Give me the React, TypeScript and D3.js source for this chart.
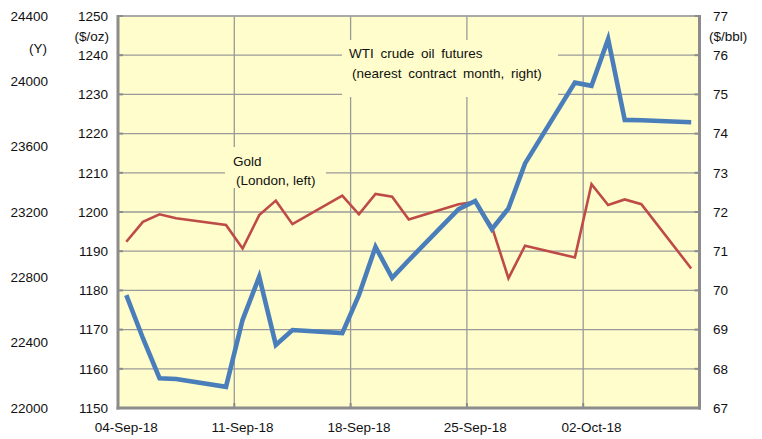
import React, { useEffect, useRef } from 'react';
import * as d3 from 'd3';

// trading days shown on the chart
const dates = [
  '2018-09-04', '2018-09-05', '2018-09-06', '2018-09-07',
  '2018-09-10', '2018-09-11', '2018-09-12', '2018-09-13', '2018-09-14',
  '2018-09-17', '2018-09-18', '2018-09-19', '2018-09-20', '2018-09-21',
  '2018-09-24', '2018-09-25', '2018-09-26', '2018-09-27', '2018-09-28',
  '2018-10-01', '2018-10-02', '2018-10-03', '2018-10-04', '2018-10-05',
  '2018-10-08',
];

// Gold, London ($/oz, left axis)
const gold = [
  1192.4, 1197.5, 1199.4, 1198.4,
  1196.7, 1190.7, 1199.2, 1202.9, 1196.9,
  1204.2, 1199.4, 1204.6, 1203.9, 1198.1,
  1202.0, 1202.6, 1196.3, 1183.1, 1191.4,
  1188.4, 1207.1, 1201.8, 1203.2, 1202.0,
  1185.6,
];

// WTI crude oil futures ($/bbl, right axis)
const wti = [
  69.88, 68.78, 67.76, 67.74,
  67.54, 69.25, 70.35, 68.61, 68.99,
  68.91, 69.88, 71.11, 70.32, 70.77,
  72.07, 72.28, 71.56, 72.09, 73.24,
  75.30, 75.22, 76.41, 74.35, 74.34,
  74.29,
];

const yenTicks = [22000, 22400, 22800, 23200, 23600, 24000, 24400];
const goldTicks = [1150, 1160, 1170, 1180, 1190, 1200, 1210, 1220, 1230, 1240, 1250];
const wtiTicks = [67, 68, 69, 70, 71, 72, 73, 74, 75, 76, 77];
const dateTicks = ['2018-09-04', '2018-09-11', '2018-09-18', '2018-09-25', '2018-10-02'];

const W = 762;
const H = 439;
const FONT = '"Liberation Sans", Arial, sans-serif';

export default function App() {
  const ref = useRef(null);

  useEffect(() => {
    if (!ref.current) return;
    const svg = d3.select(ref.current);
    svg.selectAll('*').remove();

    const left = 118;
    const right = 699.5;
    const top = 16;
    const bottom = 408;

    const parse = d3.utcParse('%Y-%m-%d');
    const x = d3.scaleUtc()
      .domain([parse('2018-09-04')!, parse('2018-10-09')!])
      .range([left, right]);
    const half = (x(parse('2018-09-05')!) - x(parse('2018-09-04')!)) / 2;

    const yGold = d3.scaleLinear().domain([1150, 1250]).range([bottom, top]);
    const yYen = d3.scaleLinear().domain([22000, 24400]).range([bottom, top]);
    const yWti = d3.scaleLinear().domain([67, 77]).range([bottom, top]);

    // plot background
    svg.append('rect')
      .attr('x', left).attr('y', top)
      .attr('width', right - left).attr('height', bottom - top)
      .attr('fill', '#fefdcb');

    // horizontal gridlines
    svg.append('g')
      .selectAll('line')
      .data(goldTicks.filter(d => d > 1150))
      .join('line')
      .attr('x1', left).attr('x2', right)
      .attr('y1', d => yGold(d)).attr('y2', d => yGold(d))
      .attr('stroke', '#9a9a9a').attr('stroke-width', 1.3);

    // vertical gridlines
    svg.append('g')
      .selectAll('line')
      .data(dateTicks.slice(1))
      .join('line')
      .attr('x1', d => x(parse(d)!)).attr('x2', d => x(parse(d)!))
      .attr('y1', top).attr('y2', bottom)
      .attr('stroke', '#9a9a9a').attr('stroke-width', 1.3);

    // label boxes hiding the grid
    svg.append('rect').attr('x', 225).attr('y', 147).attr('width', 101).attr('height', 41).attr('fill', '#fefdcb');
    svg.append('rect').attr('x', 342).attr('y', 40).attr('width', 216).attr('height', 57).attr('fill', '#fefdcb');

    const pts = dates.map(d => x(parse(d)!) + half);

    const goldLine = d3.line<number>()
      .x((d, i) => pts[i])
      .y(d => yGold(d));
    const wtiLine = d3.line<number>()
      .x((d, i) => pts[i])
      .y(d => yWti(d));

    svg.append('path')
      .attr('d', goldLine(gold))
      .attr('fill', 'none')
      .attr('stroke', '#be4b48')
      .attr('stroke-width', 2.6)
      .attr('stroke-linejoin', 'miter');

    svg.append('path')
      .attr('d', wtiLine(wti))
      .attr('fill', 'none')
      .attr('stroke', '#4a7ebb')
      .attr('stroke-width', 4.6)
      .attr('stroke-linejoin', 'miter');

    // frame and axes
    svg.append('line').attr('x1', left).attr('x2', right).attr('y1', top).attr('y2', top)
      .attr('stroke', '#a6a6a6').attr('stroke-width', 1.6);
    const axisColor = '#8c8c8c';
    svg.append('line').attr('x1', left).attr('x2', left).attr('y1', top - 1).attr('y2', bottom + 1.5)
      .attr('stroke', axisColor).attr('stroke-width', 3);
    svg.append('line').attr('x1', right).attr('x2', right).attr('y1', top - 1).attr('y2', bottom + 1.5)
      .attr('stroke', axisColor).attr('stroke-width', 3);
    svg.append('line').attr('x1', left - 1.5).attr('x2', right + 1.5).attr('y1', bottom).attr('y2', bottom)
      .attr('stroke', axisColor).attr('stroke-width', 3);

    // tick marks
    svg.append('g').selectAll('line').data(goldTicks).join('line')
      .attr('x1', left).attr('x2', left + 5)
      .attr('y1', d => yGold(d)).attr('y2', d => yGold(d))
      .attr('stroke', axisColor).attr('stroke-width', 2);
    svg.append('g').selectAll('line').data(wtiTicks).join('line')
      .attr('x1', right - 5).attr('x2', right)
      .attr('y1', d => yWti(d)).attr('y2', d => yWti(d))
      .attr('stroke', axisColor).attr('stroke-width', 2);
    svg.append('g').selectAll('line').data(dateTicks.slice(1)).join('line')
      .attr('x1', d => x(parse(d)!)).attr('x2', d => x(parse(d)!))
      .attr('y1', bottom - 5).attr('y2', bottom)
      .attr('stroke', axisColor).attr('stroke-width', 2);

    const txt = svg.append('g')
      .attr('font-family', FONT)
      .attr('font-size', 13.5)
      .attr('fill', '#111');

    // outer left axis (yen)
    txt.append('g').selectAll('text').data(yenTicks).join('text')
      .attr('x', 48).attr('y', d => yYen(d)).attr('dy', '0.35em')
      .attr('text-anchor', 'end')
      .text(d => d);
    txt.append('text').attr('x', 47).attr('y', 48).attr('dy', '0.35em')
      .attr('text-anchor', 'end').text('(Y)');

    // inner left axis (gold)
    txt.append('g').selectAll('text').data(goldTicks).join('text')
      .attr('x', 108).attr('y', d => yGold(d)).attr('dy', '0.35em')
      .attr('text-anchor', 'end')
      .text(d => d);
    txt.append('text').attr('x', 109).attr('y', 36).attr('dy', '0.35em')
      .attr('text-anchor', 'end').text('($/oz)');

    // right axis (wti)
    txt.append('g').selectAll('text').data(wtiTicks).join('text')
      .attr('x', 713).attr('y', d => yWti(d)).attr('dy', '0.35em')
      .text(d => d);
    txt.append('text').attr('x', 709).attr('y', 36).attr('dy', '0.35em').text('($/bbl)');

    // date axis
    const fmt = d3.utcFormat('%d-%b-%y');
    txt.append('g').selectAll('text').data(dateTicks).join('text')
      .attr('x', d => x(parse(d)!) + half).attr('y', 427).attr('dy', '0.35em')
      .attr('text-anchor', 'middle')
      .text(d => fmt(parse(d)!));

    // series labels
    txt.append('text').attr('x', 233).attr('y', 161).attr('dy', '0.35em').text('Gold');
    txt.append('text').attr('x', 236).attr('y', 180).attr('dy', '0.35em').text('(London, left)');
    txt.append('text').attr('x', 349).attr('y', 53).attr('dy', '0.35em')
      .attr('word-spacing', 3).text('WTI crude oil futures');
    txt.append('text').attr('x', 352).attr('y', 73).attr('dy', '0.35em')
      .attr('word-spacing', 3).text('(nearest contract month, right)');
  }, []);

  return (
    <div style={{ position: 'fixed', left: 0, top: 0, background: '#fff' }}>
      <svg ref={ref} width={W} height={H} style={{ display: 'block' }} />
    </div>
  );
}
